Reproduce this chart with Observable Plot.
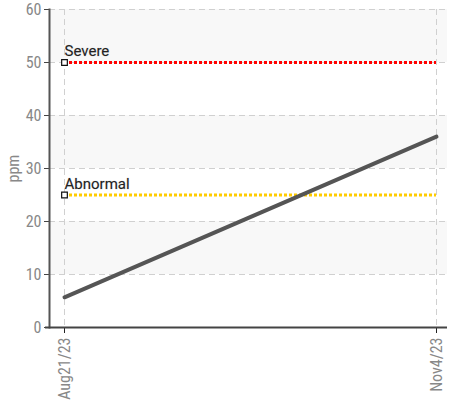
<!DOCTYPE html>
<html>
<head>
<meta charset="utf-8">
<script src="https://cdn.jsdelivr.net/npm/d3@7"></script>
<script src="https://cdn.jsdelivr.net/npm/@observablehq/plot@0.6"></script>
<style>
  body { margin: 0; background: #fff; }
  #chart svg { font-family: "Roboto Condensed", "DejaVu Sans Condensed", "Roboto", sans-serif; }
</style>
</head>
<body>
<div id="chart"></div>
<script>
const dates = ["2023-08-21", "2023-11-04"];
const tickLabels = ["Aug21/23", "Nov4/23"];
const ppmValues = [5.7, 36.0];
const thresholdNames = ["Severe", "Abnormal"];
const thresholdValues = [50, 25];
const thresholdColors = ["#ff0000", "#ffcc00"];
const bandStarts = [10, 30, 50];
const bandWidth = 10;

const parse = d3.utcParse("%Y-%m-%d");
const series = dates.map((d, i) => ({date: parse(d), ppm: ppmValues[i]}));
const thresholds = thresholdNames.map((n, i) => ({name: n, value: thresholdValues[i], color: thresholdColors[i]}));
const bands = bandStarts.map(b => ({y1: b, y2: b + bandWidth}));
const tickDates = dates.map(parse);
const labelOf = new Map(tickDates.map((d, i) => [+d, tickLabels[i]]));
const startDate = tickDates[0], endDate = tickDates[1];

const chart = Plot.plot({
  width: 449,
  height: 409,
  marginLeft: 49,
  marginRight: 2,
  marginTop: 9,
  marginBottom: 82,
  style: {fontSize: "14px", color: "#888", background: "#fff"},
  x: {type: "utc", domain: [startDate, endDate], insetLeft: 15, insetRight: 11},
  y: {domain: [0, 60]},
  marks: [
    Plot.rect(bands, {y1: "y1", y2: "y2", fill: "#f8f8f8"}),
    Plot.gridY({ticks: d3.range(0, 61, 10), stroke: "#d0d0d0", strokeOpacity: 1, strokeDasharray: "6,4", strokeWidth: 1}),
    Plot.gridX({ticks: tickDates, stroke: "#d0d0d0", strokeOpacity: 1, strokeDasharray: "6,4", strokeWidth: 1}),
    Plot.ruleY(thresholds, {x1: startDate, x2: endDate, y: "value", stroke: "color", strokeWidth: 3, strokeDasharray: "3,2"}),
    Plot.line(series, {x: "date", y: "ppm", stroke: "#555", strokeWidth: 4}),
    Plot.dot(thresholds, {x: startDate, y: "value", symbol: "square", r: 3.2, stroke: "#111", strokeWidth: 1.2, fill: "#fff"}),
    Plot.text(thresholds, {x: startDate, y: "value", text: "name", textAnchor: "start", dx: 0, dy: -11, fill: "#222", fontSize: 15, fontFamily: "Roboto, sans-serif", stroke: "#ccc", strokeWidth: 0.6}),
    Plot.axisY({ticks: d3.range(0, 61, 10), tickSize: 5, tickPadding: 3, label: "ppm", labelAnchor: "center", labelArrow: "none", labelOffset: 42, fontSize: 16, fill: "#888", stroke: "#444"}),
    Plot.axisX({ticks: tickDates, tickFormat: d => labelOf.get(+d), tickRotate: -90, tickSize: 6, tickPadding: 4, label: null, fontSize: 16, fill: "#888", stroke: "#222"}),
    Plot.frame({anchor: "left", stroke: "#555", strokeWidth: 2}),
    Plot.ruleY([0], {stroke: "#444", strokeWidth: 2, insetLeft: -4})
  ]
});
document.getElementById("chart").appendChild(chart);
</script>
</body>
</html>
